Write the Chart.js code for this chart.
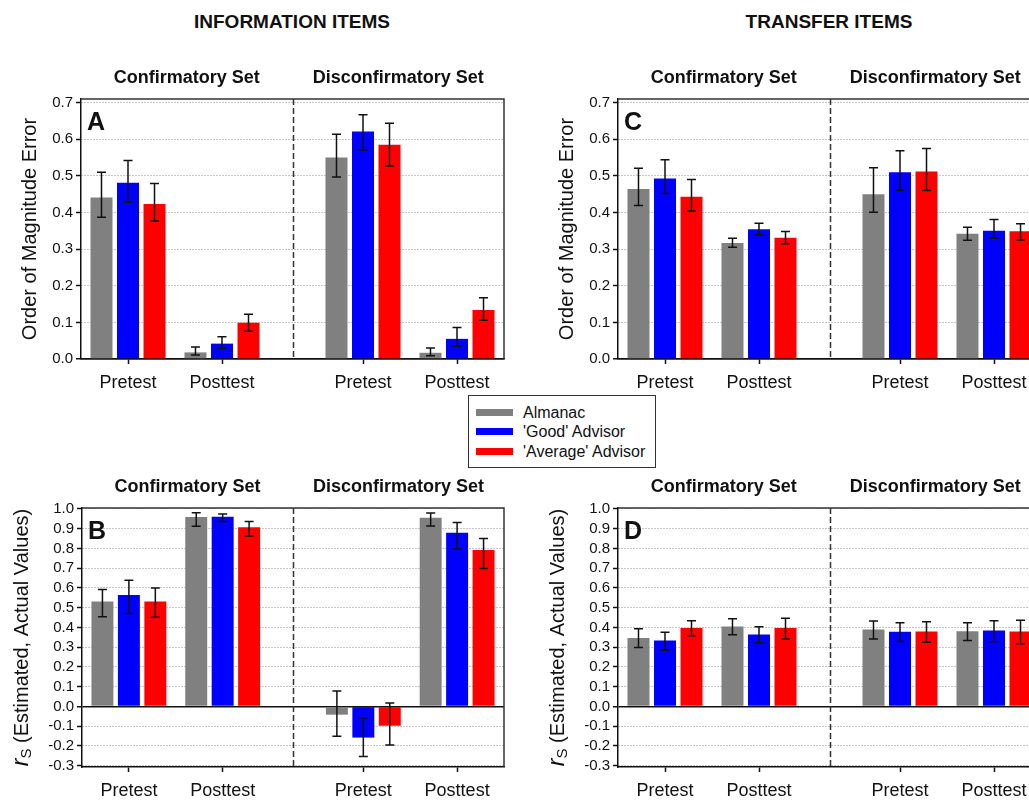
<!DOCTYPE html>
<html>
<head>
<meta charset="utf-8">
<script src="https://cdn.jsdelivr.net/npm/chart.js@4.4.1/dist/chart.umd.min.js"></script>
<style>
  html, body { margin: 0; padding: 0; overflow: hidden; background: #fff; }
  #page { position: relative; width: 1029px; height: 800px; overflow: hidden;
          font-family: 'Liberation Sans', Arial, sans-serif; color: #111; }
  canvas { position: absolute; }
  .head { position: absolute; top: 10px; font-weight: bold; font-size: 19px; line-height: 23px;
          white-space: nowrap; transform: translateX(-50%); }
  #legend { position: absolute; left: 468px; top: 395px; width: 188px; height: 73px;
            border: 1px solid #333; box-sizing: border-box; background: #fff; }
  .item { position: absolute; left: 7px; height: 20px; font-size: 16px; line-height: 20px; white-space: nowrap; }
  .sw { display: inline-block; width: 37px; height: 7px; vertical-align: middle; margin-right: 10px; position: relative; top: -1px; }
</style>
</head>
<body>
<div id="page">
  <div class="head" id="headInfo" style="left:292px"></div>
  <div class="head" id="headTransfer" style="left:829px"></div>
  <canvas id="panelA" width="530" height="340" style="left:0;top:60px"></canvas>
  <canvas id="panelB" width="530" height="335" style="left:0;top:465px"></canvas>
  <canvas id="panelC" width="520" height="340" style="left:540px;top:60px"></canvas>
  <canvas id="panelD" width="520" height="335" style="left:540px;top:465px"></canvas>
  <div id="legend"></div>
</div>
<script>
// ---- labels ----
const blockTitles = ['INFORMATION ITEMS', 'TRANSFER ITEMS'];
const setNames = ['Confirmatory Set', 'Disconfirmatory Set'];
const testNames = ['Pretest', 'Posttest'];
const seriesNames = ['Almanac', "'Good' Advisor", "'Average' Advisor"];
const seriesColors = ['#808080', '#0000ff', '#ff0000'];
const magnitudeTicks = [0.0, 0.1, 0.2, 0.3, 0.4, 0.5, 0.6, 0.7];
const correlationTicks = [-0.3, -0.2, -0.1, 0.0, 0.1, 0.2, 0.3, 0.4, 0.5, 0.6, 0.7, 0.8, 0.9, 1.0];

// Each array: [Confirmatory Pretest, Confirmatory Posttest, Disconfirmatory Pretest, Disconfirmatory Posttest]

// A: information items, order of magnitude error
const almanacA     = [0.441, 0.018, 0.550, 0.017];
const almanacLowA  = [0.387, 0.011, 0.497, 0.009];
const almanacHighA = [0.510, 0.033, 0.614, 0.030];
const goodA        = [0.481, 0.042, 0.621, 0.055];
const goodLowA     = [0.428, 0.029, 0.571, 0.034];
const goodHighA    = [0.542, 0.061, 0.667, 0.086];
const averageA     = [0.423, 0.099, 0.585, 0.134];
const averageLowA  = [0.377, 0.076, 0.527, 0.106];
const averageHighA = [0.479, 0.122, 0.644, 0.167];

// B: information items, rank correlation of estimated and actual values
const almanacB     = [0.531, 0.959, -0.042, 0.956];
const almanacLowB  = [0.454, 0.912, -0.151, 0.914];
const almanacHighB = [0.592, 0.981, 0.078, 0.980];
const goodB        = [0.564, 0.961, -0.158, 0.880];
const goodLowB     = [0.471, 0.937, -0.254, 0.797];
const goodHighB    = [0.639, 0.975, -0.059, 0.931];
const averageB     = [0.531, 0.907, -0.098, 0.792];
const averageLowB  = [0.451, 0.863, -0.195, 0.698];
const averageHighB = [0.600, 0.937, 0.017, 0.851];

// C: transfer items, order of magnitude error
const almanacC     = [0.464, 0.317, 0.450, 0.342];
const almanacLowC  = [0.419, 0.305, 0.401, 0.324];
const almanacHighC = [0.521, 0.330, 0.522, 0.360];
const goodC        = [0.493, 0.354, 0.510, 0.350];
const goodLowC     = [0.452, 0.339, 0.460, 0.330];
const goodHighC    = [0.544, 0.371, 0.569, 0.381];
const averageC     = [0.443, 0.331, 0.512, 0.349];
const averageLowC  = [0.404, 0.315, 0.460, 0.325];
const averageHighC = [0.490, 0.348, 0.575, 0.369];

// D: transfer items, rank correlation of estimated and actual values
const almanacD     = [0.347, 0.405, 0.390, 0.381];
const almanacLowD  = [0.298, 0.363, 0.341, 0.334];
const almanacHighD = [0.393, 0.444, 0.432, 0.424];
const goodD        = [0.334, 0.364, 0.378, 0.385];
const goodLowD     = [0.285, 0.322, 0.329, 0.327];
const goodHighD    = [0.376, 0.403, 0.424, 0.434];
const averageD     = [0.397, 0.397, 0.380, 0.380];
const averageLowD  = [0.358, 0.341, 0.325, 0.317];
const averageHighD = [0.434, 0.446, 0.429, 0.436];

// ---- layout helpers ----
const FONT = "'Liberation Sans', Arial, sans-serif";
Chart.defaults.font.family = FONT;
Chart.defaults.color = '#111';

// x position on the linear axis: the two sets are 2.5 units apart, tests 1 unit apart
const slotX = i => Math.floor(i / 2) * 2.5 + (i % 2);
const SET_DIVIDER = 1.75;
const isZero = c => c.tick && Math.abs(c.tick.value) < 1e-9;

document.getElementById('headInfo').textContent = blockTitles[0];
document.getElementById('headTransfer').textContent = blockTitles[1];

const legend = document.getElementById('legend');
seriesNames.forEach((name, s) => {
  const row = document.createElement('div');
  row.className = 'item';
  row.style.top = (6.5 + s * 19.7) + 'px';
  const sw = document.createElement('span');
  sw.className = 'sw';
  sw.style.background = seriesColors[s];
  row.appendChild(sw);
  row.appendChild(document.createTextNode(name));
  legend.appendChild(row);
});

const errorBars = {
  id: 'errorBars',
  afterDatasetsDraw(chart) {
    const ctx = chart.ctx, y = chart.scales.y;
    ctx.save();
    ctx.strokeStyle = '#111';
    ctx.lineWidth = 1.5;
    chart.data.datasets.forEach((ds, di) => {
      chart.getDatasetMeta(di).data.forEach((bar, i) => {
        const top = y.getPixelForValue(ds.high[i]);
        const bot = y.getPixelForValue(ds.low[i]);
        const cap = 4.5;
        ctx.beginPath();
        ctx.moveTo(bar.x, top); ctx.lineTo(bar.x, bot);
        ctx.moveTo(bar.x - cap, top); ctx.lineTo(bar.x + cap, top);
        ctx.moveTo(bar.x - cap, bot); ctx.lineTo(bar.x + cap, bot);
        ctx.stroke();
      });
    });
    ctx.restore();
  }
};

const panelDecor = {
  id: 'panelDecor',
  beforeDatasetsDraw(chart) {
    const ctx = chart.ctx, a = chart.chartArea;
    const dx = Math.round(chart.scales.x.getPixelForValue(SET_DIVIDER)) + 0.5;
    ctx.save();
    ctx.strokeStyle = '#333';
    ctx.lineWidth = 1.5;
    ctx.setLineDash([6, 3]);
    ctx.beginPath();
    ctx.moveTo(dx, a.top); ctx.lineTo(dx, a.bottom);
    ctx.stroke();
    ctx.restore();
  },
  afterDraw(chart, args, opts) {
    const ctx = chart.ctx, a = chart.chartArea;
    const dx = chart.scales.x.getPixelForValue(SET_DIVIDER);
    ctx.save();
    // frame along the top and right edges
    ctx.strokeStyle = '#333';
    ctx.lineWidth = 1.5;
    ctx.beginPath();
    ctx.moveTo(a.left, a.top); ctx.lineTo(a.right, a.top); ctx.lineTo(a.right, a.bottom);
    ctx.stroke();

    // set headings above each half
    ctx.fillStyle = '#111';
    ctx.font = 'bold 18px ' + FONT;
    ctx.textAlign = 'center';
    ctx.textBaseline = 'middle';
    ctx.fillText(setNames[0], (a.left + dx) / 2, a.top - opts.setTitleGap);
    ctx.fillText(setNames[1], (dx + a.right) / 2, a.top - opts.setTitleGap);

    // panel letter
    ctx.font = 'bold 25px ' + FONT;
    ctx.textAlign = 'left';
    ctx.textBaseline = 'alphabetic';
    ctx.fillText(opts.letter, a.left + 6, a.top + 30.5);

    // rotated y-axis title, built from styled pieces
    const pieces = opts.yTitle;
    let total = 0;
    pieces.forEach(p => { ctx.font = p.font; p.w = ctx.measureText(p.text).width; total += p.w; });
    ctx.translate(a.left - opts.yTitleOffset, (a.top + a.bottom) / 2);
    ctx.rotate(-Math.PI / 2);
    ctx.textBaseline = 'middle';
    let x = -total / 2;
    pieces.forEach(p => {
      ctx.font = p.font;
      ctx.fillText(p.text, x, p.dy || 0);
      x += p.w;
    });
    ctx.restore();
  }
};

function makePanel(id, cfg) {
  const datasets = cfg.means.map((m, s) => ({
    label: seriesNames[s],
    backgroundColor: seriesColors[s],
    borderWidth: 0,
    data: m.map((v, i) => ({ x: slotX(i), y: v })),
    low: cfg.lows[s],
    high: cfg.highs[s]
  }));
  const slots = cfg.means[0].map((v, i) => slotX(i));
  return new Chart(document.getElementById(id), {
    type: 'bar',
    data: { datasets },
    plugins: [errorBars, panelDecor],
    options: {
      responsive: false,
      animation: false,
      events: [],
      categoryPercentage: 0.846,
      barPercentage: 0.83,
      layout: { padding: { left: 0, top: cfg.padTop, right: cfg.padRight, bottom: 0 } },
      plugins: {
        legend: { display: false },
        tooltip: { enabled: false },
        panelDecor: { letter: cfg.letter, yTitle: cfg.yTitle, yTitleOffset: cfg.yTitleOffset, setTitleGap: 20.5 }
      },
      scales: {
        x: {
          type: 'linear',
          min: -0.5,
          max: 4.0,
          offset: false,
          afterBuildTicks: sc => { sc.ticks = slots.map(v => ({ value: v })); },
          afterFit: sc => { sc.height = cfg.xHeight; },
          ticks: {
            autoSkip: false,
            maxRotation: 0,
            padding: 8,
            font: { size: 18 },
            callback: (v, i) => testNames[i % 2]
          },
          grid: { display: true, drawOnChartArea: false, drawTicks: true, tickLength: 5,
                  tickColor: '#111', tickWidth: 1.5, offset: false },
          border: { display: true, color: '#111', width: 1.5 }
        },
        y: {
          min: cfg.yMin,
          max: cfg.yMax,
          afterBuildTicks: sc => { sc.ticks = cfg.yTicks.map(v => ({ value: v })); },
          afterFit: sc => { sc.width = cfg.yWidth; },
          ticks: {
            autoSkip: false,
            padding: 3,
            font: { size: 15 },
            callback: v => v.toFixed(1)
          },
          grid: {
            color: c => isZero(c) ? '#111' : '#8c8c8c',
            lineWidth: c => isZero(c) ? 1.5 : 1,
            drawTicks: true,
            tickLength: 5,
            tickColor: '#111',
            tickWidth: 1.5
          },
          border: {
            display: true, color: '#111', width: 1.5,
            dash: c => isZero(c) ? [] : [1, 2]
          }
        }
      }
    }
  });
}

const magnitudeTitle = [{ text: 'Order of Magnitude Error', font: '20px ' + FONT }];
const correlationTitle = [
  { text: 'r', font: 'italic 23px ' + FONT },
  { text: 'S', font: '15px ' + FONT, dy: 5 },
  { text: ' (Estimated, Actual Values)', font: '20px ' + FONT }
];

makePanel('panelA', {
  letter: 'A', yTitle: magnitudeTitle, yTitleOffset: 51,
  means: [almanacA, goodA, averageA],
  lows: [almanacLowA, goodLowA, averageLowA],
  highs: [almanacHighA, goodHighA, averageHighA],
  yMin: 0, yMax: 0.71, yTicks: magnitudeTicks,
  padTop: 39, padRight: 26, yWidth: 81, xHeight: 41
});
makePanel('panelB', {
  letter: 'B', yTitle: correlationTitle, yTitleOffset: 60,
  means: [almanacB, goodB, averageB],
  lows: [almanacLowB, goodLowB, averageLowB],
  highs: [almanacHighB, goodHighB, averageHighB],
  yMin: -0.307, yMax: 1.005, yTicks: correlationTicks,
  padTop: 43, padRight: 26, yWidth: 82, xHeight: 33
});
makePanel('panelC', {
  letter: 'C', yTitle: magnitudeTitle, yTitleOffset: 51,
  means: [almanacC, goodC, averageC],
  lows: [almanacLowC, goodLowC, averageLowC],
  highs: [almanacHighC, goodHighC, averageHighC],
  yMin: 0, yMax: 0.71, yTicks: magnitudeTicks,
  padTop: 39, padRight: 19, yWidth: 78, xHeight: 41
});
makePanel('panelD', {
  letter: 'D', yTitle: correlationTitle, yTitleOffset: 60,
  means: [almanacD, goodD, averageD],
  lows: [almanacLowD, goodLowD, averageLowD],
  highs: [almanacHighD, goodHighD, averageHighD],
  yMin: -0.307, yMax: 1.005, yTicks: correlationTicks,
  padTop: 43, padRight: 19, yWidth: 78, xHeight: 33
});
</script>
</body>
</html>
